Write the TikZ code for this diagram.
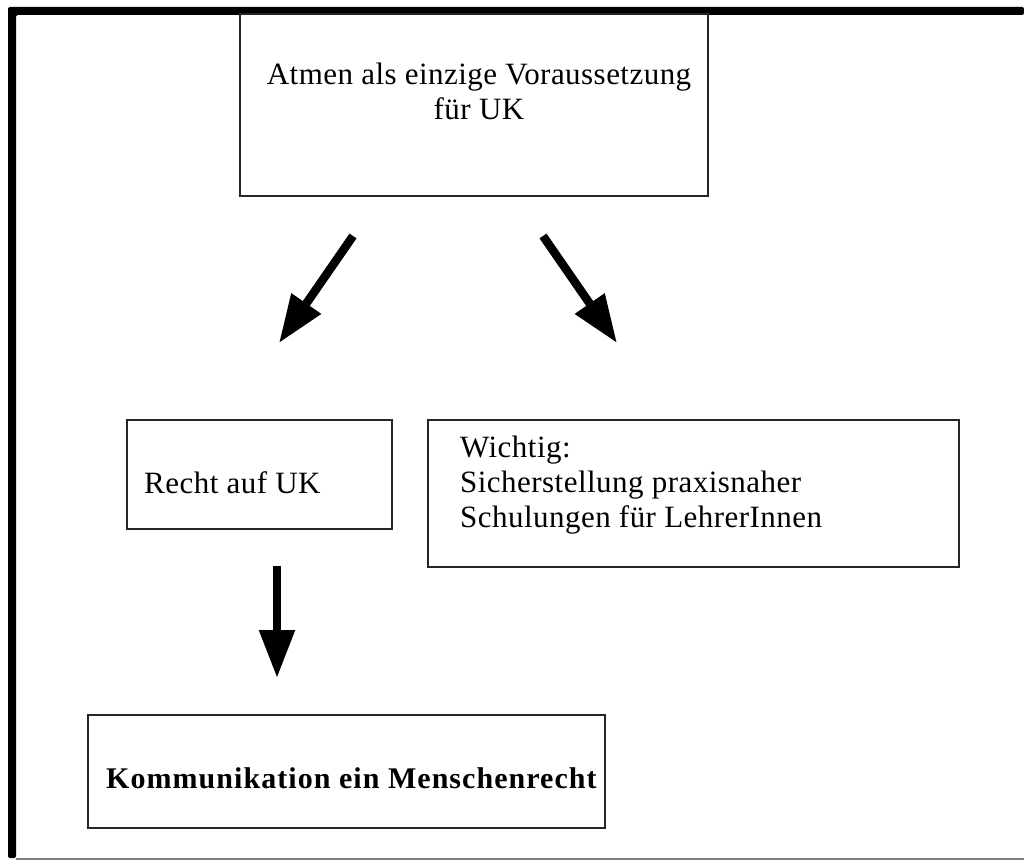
\documentclass[tikz,border=0pt]{standalone}
\usepackage{fontspec}
\setmainfont{Liberation Serif}[LetterSpace=1.5]
\usetikzlibrary{arrows.meta}
\begin{document}
\begin{tikzpicture}[x=1pt,y=-1pt,
  box/.style={draw=black!85,line width=1.6pt,fill=none,inner sep=0pt},
  txt/.style={inner sep=0pt,font=\fontsize{31}{35}\selectfont},
  bigarrow/.style={line width=8.5pt,-{Triangle[length=48pt,width=34pt]}}]
  \useasboundingbox (0,0) rectangle (1024,861);
  % page frame: heavy top and left rules, light bottom rule
  \fill[black,rounded corners=2pt] (8,7) -- (1024,7) -- (1024,15) -- (16,15) -- (16,858) -- (8,858) -- cycle;
  \draw[black!50,line width=1.5pt] (16,859) -- (1024,859);
  % boxes
  \draw[box] (240,14) rectangle (708,196);
  \draw[box] (127,420) rectangle (392,529);
  \draw[box] (428,420) rectangle (959,567);
  \draw[box] (88,715) rectangle (605,828);
  \node[box,draw=none,minimum width=468pt,minimum height=182pt] (top) at (474,105) {};
  \node[box,draw=none,minimum width=265pt,minimum height=109pt] (recht) at (259.5,474.5) {};
  \node[box,draw=none,minimum width=531pt,minimum height=147pt] (wichtig) at (693.5,493.5) {};
  \node[box,draw=none,minimum width=517pt,minimum height=113pt] (komm) at (346.5,771.5) {};
  % texts
  \node[txt,align=center,anchor=base] (toptxt) at (479,120) {Atmen als einzige Voraussetzung\\für UK};
  \node[txt,anchor=base west] (rechttxt) at (144,493) {Recht auf UK};
  \node[txt,align=left,anchor=base west] (wichtigtxt) at (460,527) {Wichtig:\\Sicherstellung praxisnaher\\Schulungen für LehrerInnen};
  \node[txt,anchor=base west,font=\fontsize{30}{35}\selectfont\bfseries\addfontfeatures{LetterSpace=3.5}] (kommtxt) at (106,788) {Kommunikation ein Menschenrecht};
  % arrow ends
  \coordinate (a1s) at (353,236);
  \coordinate (a1e) at (279,343);
  \coordinate (a2s) at (543,236);
  \coordinate (a2e) at (617,343);
  \coordinate (a3s) at (277,566);
  \coordinate (a3e) at (277,678);
  \draw[bigarrow] (a1s) -- (a1e);
  \draw[bigarrow] (a2s) -- (a2e);
  \draw[bigarrow] (a3s) -- (a3e);
\end{tikzpicture}
\end{document}
